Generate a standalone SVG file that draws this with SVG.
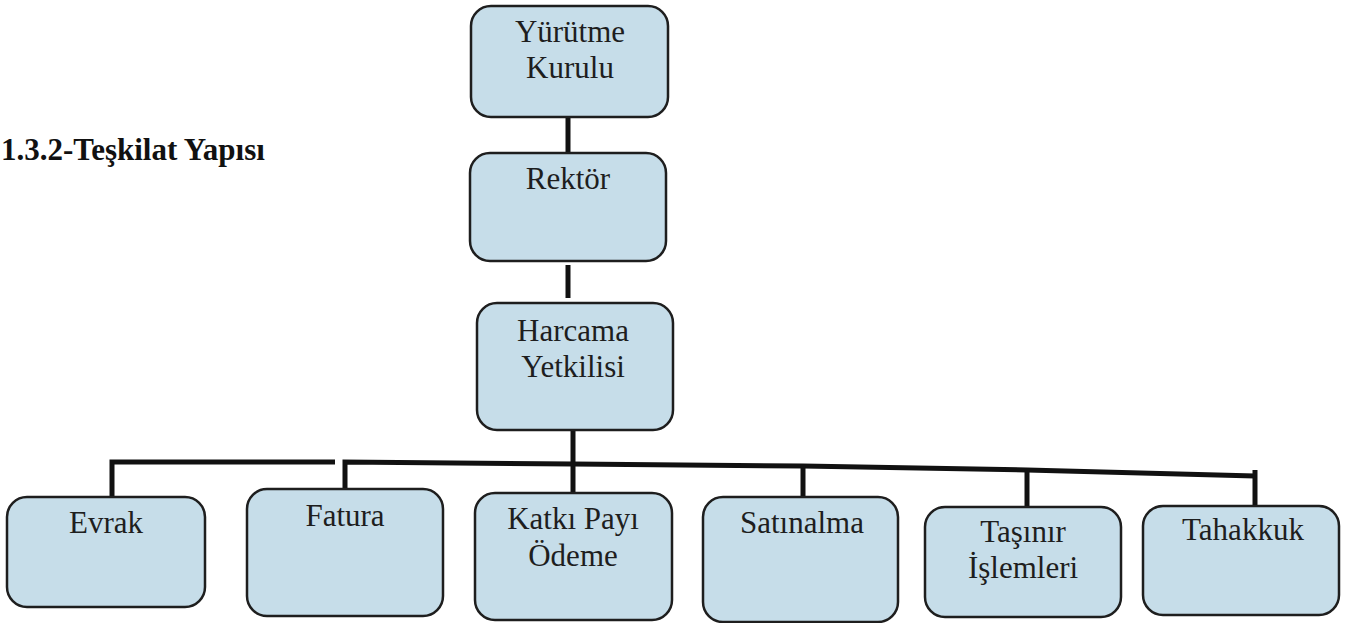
<svg xmlns="http://www.w3.org/2000/svg" width="1352" height="623" viewBox="0 0 1352 623">
<style>
.box{fill:#c6dde9;stroke:#1e1e1e;stroke-width:2.5}
.lbl{font-family:"Liberation Serif",serif;font-size:31px;fill:#1e1e1e;text-anchor:middle}
.title{font-family:"Liberation Serif",serif;font-size:31px;font-weight:bold;fill:#111}
.conn{fill:none;stroke:#111;stroke-width:5}
</style>
<rect width="1352" height="623" fill="#fff"/>
<text class="title" x="1" y="160">1.3.2-Teşkilat Yapısı</text>
<g id="connectors">
<line class="conn" x1="568" y1="117" x2="568" y2="153"/>
<line class="conn" x1="568" y1="265" x2="568" y2="298"/>
<line class="conn" x1="573" y1="430" x2="573" y2="493"/>
<polyline class="conn" points="112,497 112,462 335,462"/>
<polyline class="conn" points="345,490 345,462 573,464 803,466 1027,470 1255,476"/>
<line class="conn" x1="803" y1="466" x2="803" y2="497"/>
<line class="conn" x1="1027" y1="470" x2="1027" y2="507"/>
<line class="conn" x1="1255" y1="470" x2="1255" y2="506"/>
</g>
<g id="yurutme"><rect class="box" x="471" y="6" width="197" height="111" rx="20"/><text class="lbl" x="570" y="42">Yürütme</text><text class="lbl" x="570" y="78">Kurulu</text></g>
<g id="rektor"><rect class="box" x="470" y="153" width="196" height="108" rx="20"/><text class="lbl" x="568" y="189">Rektör</text></g>
<g id="harcama"><rect class="box" x="477" y="303" width="196" height="127" rx="20"/><text class="lbl" x="573" y="341">Harcama</text><text class="lbl" x="573" y="377">Yetkilisi</text></g>
<g id="evrak"><rect class="box" x="7" y="497" width="198" height="110" rx="20"/><text class="lbl" x="106" y="533">Evrak</text></g>
<g id="fatura"><rect class="box" x="247" y="489" width="196" height="127" rx="20"/><text class="lbl" x="345" y="526">Fatura</text></g>
<g id="katki"><rect class="box" x="475" y="493" width="197" height="127" rx="20"/><text class="lbl" x="573" y="529">Katkı Payı</text><text class="lbl" x="573" y="566">Ödeme</text></g>
<g id="satinalma"><rect class="box" x="703" y="497" width="195" height="125" rx="20"/><text class="lbl" x="802" y="533">Satınalma</text></g>
<g id="tasinir"><rect class="box" x="925" y="507" width="196" height="110" rx="20"/><text class="lbl" x="1023" y="542">Taşınır</text><text class="lbl" x="1023" y="578">İşlemleri</text></g>
<g id="tahakkuk"><rect class="box" x="1143" y="506" width="196" height="109" rx="20"/><text class="lbl" x="1243" y="540">Tahakkuk</text></g>
</svg>
